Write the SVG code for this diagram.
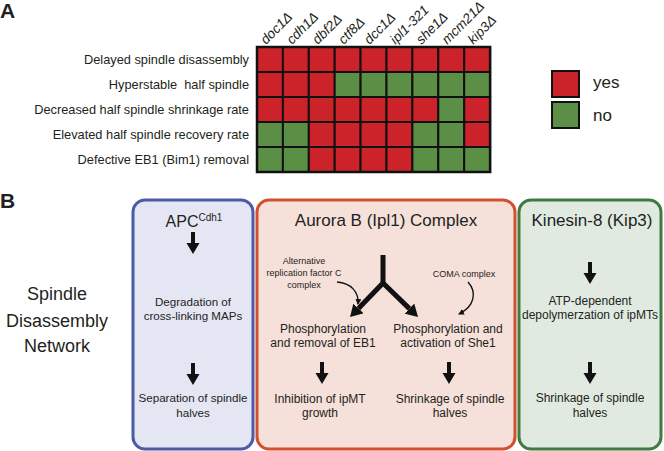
<svg xmlns="http://www.w3.org/2000/svg" xmlns:xlink="http://www.w3.org/1999/xlink" width="664" height="451" viewBox="0 0 664 451">
<style>
text{font-family:"Liberation Sans",Arial,sans-serif;fill:#231f20}
.lbl{font-size:21px;font-weight:bold}
.row{font-size:12.8px;text-anchor:end}
.col{font-size:13.6px;font-style:italic}
.leg{font-size:17px}
.c{stroke:#111;stroke-width:2}
.R{fill:#cc2229}
.G{fill:#5b8f46}
.title{font-size:17px;text-anchor:middle}
.body{font-size:12px;text-anchor:middle}
.bb{font-size:11.6px;text-anchor:middle}
.sm{font-size:9px;text-anchor:middle}
.net{font-size:18px;text-anchor:middle}
.thin{fill:none;stroke:#111;stroke-width:1.3}
.thick{fill:none;stroke:#111;stroke-width:5}
</style>
<defs>
<path id="da" d="M-2,0H2V11H6.5L0,22L-6.5,11H-2Z" fill="#111"/>
<marker id="big" viewBox="0 -7 12 14" refX="0" refY="0" markerWidth="12" markerHeight="14" markerUnits="userSpaceOnUse" orient="auto"><path d="M0,-7L12,0L0,7Z" fill="#111"/></marker>
<marker id="small" viewBox="0 -3 6 6" refX="5" refY="0" markerWidth="6" markerHeight="6" markerUnits="userSpaceOnUse" orient="auto"><path d="M0,-3L6,0L0,3Z" fill="#111"/></marker>
</defs>
<rect width="664" height="451" fill="#fff"/>

<g id="panelA">
<text class="lbl" x="0" y="18">A</text>
<g id="rowLabels">
<text class="row" x="249" y="64">Delayed spindle disassembly</text>
<text class="row" x="249" y="89" xml:space="preserve">Hyperstable  half spindle</text>
<text class="row" x="249" y="114">Decreased half spindle shrinkage rate</text>
<text class="row" x="249" y="139">Elevated half spindle recovery rate</text>
<text class="row" x="249" y="164">Defective EB1 (Bim1) removal</text>
</g>
<g id="colLabels">
<text class="col" transform="translate(266,45) rotate(-45)">doc1Δ</text>
<text class="col" transform="translate(291.9,45) rotate(-45)">cdh1Δ</text>
<text class="col" transform="translate(317.8,45) rotate(-45)">dbf2Δ</text>
<text class="col" transform="translate(343.7,45) rotate(-45)">ctf8Δ</text>
<text class="col" transform="translate(369.6,45) rotate(-45)">dcc1Δ</text>
<text class="col" transform="translate(395.5,45) rotate(-45)">ipl1-321</text>
<text class="col" transform="translate(421.4,45) rotate(-45)">she1Δ</text>
<text class="col" transform="translate(447.3,45) rotate(-45)">mcm21Δ</text>
<text class="col" transform="translate(473.2,45) rotate(-45)">kip3Δ</text>
</g>
<g id="grid">
<rect class="c R" x="257" y="47" width="25.9" height="25"/>
<rect class="c R" x="282.9" y="47" width="25.9" height="25"/>
<rect class="c R" x="308.8" y="47" width="25.9" height="25"/>
<rect class="c R" x="334.7" y="47" width="25.9" height="25"/>
<rect class="c R" x="360.6" y="47" width="25.9" height="25"/>
<rect class="c R" x="386.5" y="47" width="25.9" height="25"/>
<rect class="c R" x="412.4" y="47" width="25.9" height="25"/>
<rect class="c R" x="438.3" y="47" width="25.9" height="25"/>
<rect class="c R" x="464.2" y="47" width="25.9" height="25"/>

<rect class="c R" x="257" y="72" width="25.9" height="25"/>
<rect class="c R" x="282.9" y="72" width="25.9" height="25"/>
<rect class="c R" x="308.8" y="72" width="25.9" height="25"/>
<rect class="c G" x="334.7" y="72" width="25.9" height="25"/>
<rect class="c G" x="360.6" y="72" width="25.9" height="25"/>
<rect class="c G" x="386.5" y="72" width="25.9" height="25"/>
<rect class="c G" x="412.4" y="72" width="25.9" height="25"/>
<rect class="c G" x="438.3" y="72" width="25.9" height="25"/>
<rect class="c G" x="464.2" y="72" width="25.9" height="25"/>

<rect class="c R" x="257" y="97" width="25.9" height="25"/>
<rect class="c R" x="282.9" y="97" width="25.9" height="25"/>
<rect class="c R" x="308.8" y="97" width="25.9" height="25"/>
<rect class="c R" x="334.7" y="97" width="25.9" height="25"/>
<rect class="c R" x="360.6" y="97" width="25.9" height="25"/>
<rect class="c R" x="386.5" y="97" width="25.9" height="25"/>
<rect class="c R" x="412.4" y="97" width="25.9" height="25"/>
<rect class="c G" x="438.3" y="97" width="25.9" height="25"/>
<rect class="c R" x="464.2" y="97" width="25.9" height="25"/>

<rect class="c G" x="257" y="122" width="25.9" height="25"/>
<rect class="c G" x="282.9" y="122" width="25.9" height="25"/>
<rect class="c R" x="308.8" y="122" width="25.9" height="25"/>
<rect class="c R" x="334.7" y="122" width="25.9" height="25"/>
<rect class="c R" x="360.6" y="122" width="25.9" height="25"/>
<rect class="c R" x="386.5" y="122" width="25.9" height="25"/>
<rect class="c G" x="412.4" y="122" width="25.9" height="25"/>
<rect class="c G" x="438.3" y="122" width="25.9" height="25"/>
<rect class="c R" x="464.2" y="122" width="25.9" height="25"/>

<rect class="c G" x="257" y="147" width="25.9" height="25"/>
<rect class="c G" x="282.9" y="147" width="25.9" height="25"/>
<rect class="c R" x="308.8" y="147" width="25.9" height="25"/>
<rect class="c R" x="334.7" y="147" width="25.9" height="25"/>
<rect class="c R" x="360.6" y="147" width="25.9" height="25"/>
<rect class="c R" x="386.5" y="147" width="25.9" height="25"/>
<rect class="c G" x="412.4" y="147" width="25.9" height="25"/>
<rect class="c G" x="438.3" y="147" width="25.9" height="25"/>
<rect class="c G" x="464.2" y="147" width="25.9" height="25"/>
<rect x="257" y="47" width="233.1" height="125" fill="none" stroke="#111" stroke-width="2.5"/>
</g>
<g id="legend">
<rect class="c R" x="552" y="71" width="27" height="26"/>
<text class="leg" x="593" y="88">yes</text>
<rect class="c G" x="552" y="102" width="27" height="26"/>
<text class="leg" x="593" y="121">no</text>
</g>
</g>

<g id="panelB">
<text class="lbl" x="0" y="208">B</text>
<g id="network-label">
<text class="net" x="57" y="300">Spindle</text>
<text class="net" x="57" y="327">Disassembly</text>
<text class="net" x="57" y="352">Network</text>
</g>

<g id="apc">
<rect x="133" y="200" width="120" height="249" rx="12" fill="#e4e6f4" stroke="#4b5ba6" stroke-width="3"/>
<text x="194" y="227" text-anchor="middle" font-size="16">APC<tspan font-size="10" dy="-6">Cdh1</tspan></text>
<text class="bb" x="193" y="306">Degradation of</text>
<text class="bb" x="193" y="320">cross-linking MAPs</text>
<text class="bb" x="193" y="402">Separation of spindle</text>
<text class="bb" x="193" y="417">halves</text>
</g>

<g id="aurora">
<rect x="257" y="200" width="258" height="249" rx="12" fill="#f6e0da" stroke="#d2502f" stroke-width="3"/>
<text class="title" x="386" y="226">Aurora B (Ipl1) Complex</text>
<text class="sm" x="304" y="264">Alternative</text>
<text class="sm" x="304" y="276">replication factor C</text>
<text class="sm" x="304" y="288">complex</text>
<text class="sm" x="464" y="277" font-size="9.5">COMA complex</text>
<text class="body" x="323" y="333">Phosphorylation</text>
<text class="body" x="323" y="347">and removal of EB1</text>
<text class="body" x="448" y="333">Phosphorylation and</text>
<text class="body" x="448" y="347">activation of She1</text>
<text class="body" x="320" y="403">Inhibition of ipMT</text>
<text class="body" x="320" y="417">growth</text>
<text class="body" x="450" y="403">Shrinkage of spindle</text>
<text class="body" x="450" y="417">halves</text>
</g>

<g id="kinesin">
<rect x="519" y="200" width="142" height="249" rx="12" fill="#e0eae0" stroke="#3f7b40" stroke-width="3"/>
<text class="title" x="592" y="226">Kinesin-8 (Kip3)</text>
<text class="body" x="590" y="305">ATP-dependent</text>
<text class="body" x="590" y="319">depolymerzation of ipMTs</text>
<text class="body" x="590" y="402">Shrinkage of spindle</text>
<text class="body" x="590" y="417">halves</text>
</g>

<g id="connectors">
<use xlink:href="#da" x="193" y="232"/>
<use xlink:href="#da" x="193" y="363"/>
<use xlink:href="#da" x="322" y="362"/>
<use xlink:href="#da" x="449" y="362"/>
<use xlink:href="#da" x="590" y="262"/>
<use xlink:href="#da" x="590" y="362"/>
<line class="thick" x1="383" y1="255" x2="383" y2="284"/>
<line class="thick" x1="383" y1="283" x2="358.4" y2="308.4" marker-end="url(#big)"/>
<line class="thick" x1="383" y1="283" x2="409.4" y2="308.6" marker-end="url(#big)"/>
<path class="thin" d="M337,282 C351,283 359,292 358,304" marker-end="url(#small)"/>
<path class="thin" d="M468,282 C477,292 475,306 459,314" marker-end="url(#small)"/>
</g>
</g>
</svg>
